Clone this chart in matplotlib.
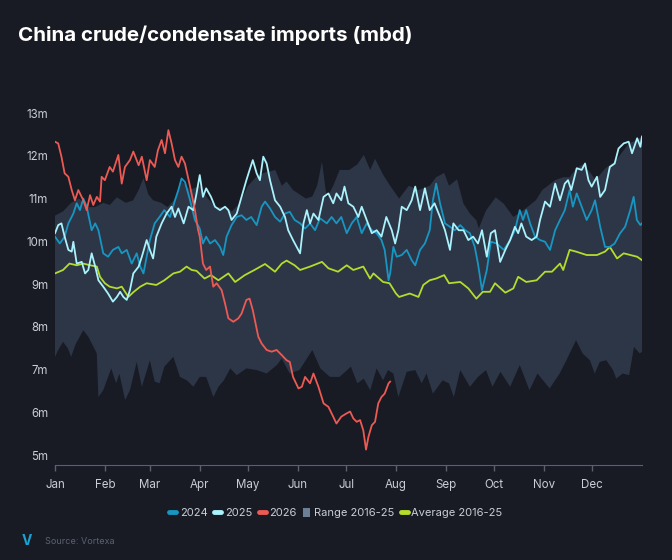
import numpy as np
import matplotlib
matplotlib.use("Agg")
import matplotlib.pyplot as plt
from matplotlib.lines import Line2D
from matplotlib.patches import Patch

plt.rcParams['font.family'] = ['Inter', 'DejaVu Sans']

title = "China crude/condensate imports (mbd)"
source = "Source: Vortexa"

month_labels = ["Jan", "Feb", "Mar", "Apr", "May", "Jun",
                "Jul", "Aug", "Sep", "Oct", "Nov", "Dec"]
month_starts = [0, 31, 59, 90, 120, 151, 181, 212, 243, 273, 304, 334]
y_ticks = [5, 6, 7, 8, 9, 10, 11, 12, 13]

# range 2016-25, upper edge (day of year, mbd)
range_hi_days = [0, 5, 10, 15, 20, 25, 30, 34, 38.5, 44, 48.6, 52, 55, 58, 61, 66, 70,
                 75, 79, 84, 90, 95, 100, 105, 110, 115, 120, 125, 130, 137, 141, 144,
                 148, 152, 156, 160, 163, 166, 169, 173, 177, 183, 188, 192, 196, 199,
                 204, 208, 214, 220, 226, 233, 237, 242, 245, 250, 254, 258, 262, 263.5,
                 268, 274, 279, 285, 291, 299, 303, 311, 316, 320, 324, 328, 333, 336,
                 342, 349, 353, 357, 361, 365]
range_hi = [10.6, 10.7, 10.9, 11.0, 10.8, 10.8, 10.9, 10.85, 11.03, 10.9, 10.96, 11.2,
            11.48, 11.1, 10.96, 10.9, 10.8, 11.0, 11.4, 11.2, 11.3, 11.0, 10.8, 10.8,
            10.7, 10.9, 11.3, 11.5, 11.6, 11.67, 11.3, 11.4, 11.2, 11.1, 11.0, 11.05,
            11.3, 11.86, 11.0, 11.3, 11.67, 11.67, 11.8, 12.02, 11.67, 11.93, 11.56,
            11.32, 11.0, 11.3, 11.2, 11.3, 11.5, 11.6, 11.3, 11.45, 10.88, 10.65, 10.49,
            10.3, 10.72, 11.03, 10.88, 10.57, 10.72, 10.96, 11.2, 11.43, 11.5, 11.5,
            11.7, 11.8, 11.6, 11.43, 11.7, 11.9, 12.1, 12.3, 12.35, 12.45]

# range 2016-25, lower edge
range_lo_days = [0, 2, 5, 8, 10, 13, 17.6, 20.7, 24, 26, 27, 30, 35, 38, 40, 43.6, 46.6,
                 50.8, 54, 59, 62, 65, 68, 73.6, 77.7, 82, 86, 90, 94, 98.5, 101.6, 105,
                 109, 113, 119, 125.4, 131.6, 138, 141, 146, 152, 160, 165, 171, 177, 184,
                 188, 192, 196, 200, 204, 207, 210.4, 213.5, 218.7, 224, 228, 231, 235,
                 241, 245, 248, 252, 258, 263, 268, 272, 277, 283, 289, 295, 300, 307.6,
                 313.8, 318, 324, 328, 332.6, 335.6, 338.7, 342.8, 347, 349, 353, 357,
                 360, 363.6, 365]
range_lo = [7.30, 7.46, 7.65, 7.50, 7.30, 7.61, 7.92, 7.77, 7.53, 7.38, 6.36, 6.52, 7.03,
            6.68, 6.91, 6.29, 6.52, 7.18, 6.60, 7.22, 6.72, 6.68, 7.07, 7.30, 6.83, 6.75,
            6.60, 6.83, 6.83, 6.36, 6.60, 6.75, 7.03, 6.87, 7.03, 6.99, 6.91, 7.11, 7.26,
            6.91, 6.99, 7.46, 7.03, 6.83, 6.83, 7.07, 6.68, 6.79, 6.52, 7.03, 6.75, 6.99,
            6.91, 6.36, 6.95, 6.99, 6.68, 6.91, 6.44, 6.75, 6.68, 6.36, 6.99, 6.60, 6.83,
            6.99, 6.60, 6.95, 6.60, 7.11, 6.52, 6.91, 6.56, 6.91, 7.22, 7.69, 7.38, 7.22,
            6.91, 7.18, 7.22, 6.99, 6.79, 6.91, 6.87, 7.53, 7.38, 7.42]

# average 2016-25
avg_days = [0, 5, 9, 13.5, 17.6, 22, 26, 28, 31, 34, 38.5, 41.5, 45.6, 49, 53, 57, 63, 68,
            73.6, 77.7, 81.8, 85, 88, 93, 97, 101.6, 107.8, 112, 118, 124, 130.6, 136.8,
            141, 144, 149, 152.4, 158.6, 166, 170, 176, 181.4, 185.5, 191.7, 195.9, 198,
            204, 208, 212, 214, 220.6, 226, 229, 233, 237, 242, 245, 252, 257, 262, 266,
            270.5, 273.6, 280, 285, 288, 293, 299.5, 304.7, 309, 314, 316, 320, 324, 330.6,
            337, 342, 345, 349.5, 353.6, 357.8, 362, 365]
avg = [9.25, 9.33, 9.48, 9.44, 9.48, 9.44, 9.41, 9.17, 9.02, 8.94, 8.90, 8.94, 8.70, 8.82,
       8.94, 9.02, 8.98, 9.09, 9.25, 9.29, 9.41, 9.33, 9.31, 9.13, 9.21, 9.09, 9.25, 9.05,
       9.21, 9.33, 9.47, 9.29, 9.48, 9.55, 9.44, 9.33, 9.41, 9.52, 9.37, 9.29, 9.44, 9.33,
       9.41, 9.13, 9.25, 9.05, 9.02, 8.78, 8.70, 8.78, 8.70, 8.98, 9.09, 9.13, 9.21, 9.02,
       9.05, 8.90, 8.66, 8.82, 8.82, 9.02, 8.80, 8.90, 9.17, 9.05, 9.09, 9.29, 9.29, 9.48,
       9.33, 9.80, 9.76, 9.68, 9.68, 9.76, 9.87, 9.60, 9.72, 9.68, 9.64, 9.56]

days_2024 = [0, 3, 6, 8.3, 11.4, 13.5, 15.5, 17.6, 19.7, 22.8, 25, 27, 30, 33, 36, 39.4,
             41.5, 44.6, 47.7, 50.8, 53, 55, 57, 59, 62, 65, 68, 71.5, 74.6, 76.7, 78.7,
             80.8, 84, 87, 90, 92, 94, 96.4, 99.5, 102.6, 104.6, 106.7, 109.8, 113, 116,
             119, 122, 125.4, 128.5, 130.6, 133.7, 136.8, 140, 143, 146, 149, 152.4, 155.5,
             158.6, 161.7, 164.8, 169, 172, 175, 178, 181.4, 184.5, 187.6, 190.7, 193.8,
             197, 200, 203, 205, 207.4, 208.4, 210.4, 212.5, 215.6, 218.7, 221.8, 224, 227,
             230, 233, 235, 237, 239.4, 242.5, 245.6, 248.7, 252, 255, 258, 261, 263, 265.5,
             268.5, 271, 274.7, 279, 283, 286, 289, 291, 293, 295.4, 298.5, 301.6, 304.7,
             307.8, 311, 314, 317, 320, 322, 324.4, 327.5, 330.6, 333.7, 335.8, 339, 342,
             345, 348, 351.4, 354.5, 357.7, 359.8, 361.8, 364, 365]
vals_2024 = [10.11, 9.95, 10.11, 10.42, 10.65, 10.89, 10.73, 11.00, 10.81, 10.26, 10.42,
             10.26, 9.72, 9.64, 9.80, 9.87, 9.72, 9.80, 9.48, 9.72, 9.41, 9.25, 9.64, 10.03,
             10.42, 10.57, 10.73, 10.57, 10.96, 11.20, 11.47, 11.39, 10.96, 10.50, 10.30,
             9.95, 10.11, 9.95, 10.03, 9.87, 9.68, 10.11, 10.38, 10.57, 10.61, 10.50, 10.57,
             10.38, 10.81, 10.93, 10.77, 10.57, 10.46, 10.65, 10.69, 10.50, 10.42, 10.30,
             10.42, 10.26, 10.54, 10.42, 10.57, 10.42, 10.57, 10.19, 10.42, 10.57, 10.19,
             10.42, 10.26, 10.19, 10.03, 9.80, 9.09, 9.25, 9.87, 9.64, 9.68, 9.80, 9.56, 9.44,
             9.80, 9.95, 10.26, 10.96, 11.35, 10.89, 10.42, 10.34, 10.26, 10.38, 10.26, 10.19,
             9.87, 9.48, 8.86, 9.33, 9.99, 9.95, 9.80, 10.03, 10.26, 10.73, 10.50, 10.73,
             10.42, 10.11, 10.03, 9.99, 9.80, 10.26, 10.50, 10.73, 11.20, 10.81, 11.12, 10.81,
             10.50, 10.73, 10.96, 10.34, 9.87, 9.87, 9.95, 10.19, 10.34, 10.73, 11.04, 10.50,
             10.38, 10.42]

days_2025 = [0, 2, 4, 6, 8.3, 10.4, 11.4, 13.5, 16.6, 18.7, 20.7, 22.8, 25, 27, 30, 33, 36,
             38.5, 40.5, 42.5, 44.6, 46.6, 48.7, 52, 54, 57, 59, 61, 63, 66.3, 69.4, 72.5,
             74.6, 76.7, 80, 83, 86, 88, 90, 92, 94, 97, 99.5, 102.6, 105.7, 107.8, 109.8,
             113, 116, 119, 121, 123, 125.4, 127.4, 129.5, 131.6, 133.7, 136.8, 140, 143,
             145, 148, 150.3, 152.4, 154.5, 156.6, 158.6, 160.7, 163.8, 167, 170, 173, 175,
             178, 180, 182.4, 185.5, 188.6, 190.7, 193.8, 197, 200, 203, 206, 209.4, 211.5,
             213.5, 215.6, 218.7, 221.8, 224, 227, 230, 233, 236, 239.4, 242.5, 245.6, 247.7,
             251, 254, 257, 260, 263, 265.5, 268.5, 271, 273.6, 276.8, 280, 283, 286, 288,
             290, 293, 296.4, 299.5, 301.6, 304.7, 307.8, 311, 314, 317, 319, 321, 324.4,
             327.5, 329.6, 331.7, 333.7, 337, 339, 342, 345, 348, 350.4, 353.6, 356.7, 358.8,
             362, 364, 365]
vals_2025 = [10.19, 10.38, 10.42, 10.11, 9.80, 9.76, 9.99, 9.48, 9.52, 9.25, 9.33, 9.72,
             9.41, 9.09, 8.94, 8.78, 8.59, 8.70, 8.82, 8.70, 8.63, 8.86, 9.25, 9.41, 9.64,
             10.03, 9.80, 9.60, 10.11, 10.42, 10.65, 10.81, 10.57, 10.77, 10.42, 10.81, 10.73,
             11.12, 11.55, 11.04, 11.24, 11.04, 10.81, 10.73, 10.81, 10.73, 10.50, 10.65,
             11.04, 11.43, 11.67, 11.90, 11.59, 11.43, 11.98, 11.82, 11.43, 10.96, 10.81,
             10.57, 10.26, 10.03, 9.87, 9.72, 10.42, 10.73, 10.42, 10.65, 10.50, 11.04, 11.12,
             10.89, 11.12, 10.96, 11.28, 10.89, 10.81, 10.57, 10.81, 10.50, 10.19, 10.26,
             10.11, 10.57, 10.26, 9.95, 10.26, 10.81, 10.73, 10.96, 11.28, 10.73, 11.24, 10.73,
             10.89, 10.57, 10.26, 9.80, 10.42, 10.26, 10.26, 10.03, 10.11, 9.95, 10.26, 9.64,
             10.19, 10.26, 9.52, 9.80, 10.03, 10.34, 10.19, 10.42, 10.11, 10.03, 10.11, 10.50,
             10.93, 10.81, 11.35, 10.96, 11.35, 11.43, 11.20, 11.71, 11.67, 11.82, 11.43,
             11.28, 11.51, 11.04, 11.20, 11.74, 11.82, 12.17, 12.29, 12.33, 12.06, 12.41,
             12.21, 12.45]

days_2026 = [0, 2, 4, 6, 8.3, 10.4, 12.4, 14.5, 17.6, 19.7, 21.8, 23.8, 26, 28, 29, 31, 34,
             36, 39.4, 41.5, 43.5, 46.6, 48.7, 52, 54, 57, 59, 62, 64, 66.3, 68.4, 70.5, 72.5,
             74.6, 76.7, 78.7, 80.8, 84, 87, 89, 90, 92, 94, 96.4, 98.4, 100.5, 103.6, 105.7,
             107.8, 110.9, 114, 116, 119, 121, 123, 126.4, 128.5, 131.6, 134.7, 137.8, 141,
             144, 146, 148, 151.4, 153.5, 155.5, 158.6, 160.7, 163.8, 167, 170, 173, 175, 178,
             181, 183.5, 185.5, 187.6, 189.7, 191.7, 193.4, 194.9, 197, 199, 201, 203, 205,
             207.4, 208.4]
vals_2026 = [12.33, 12.29, 11.98, 11.59, 11.51, 11.20, 10.96, 11.20, 10.96, 10.73, 11.08,
             10.85, 11.04, 10.93, 11.51, 11.43, 11.74, 11.63, 12.02, 11.35, 11.74, 11.90,
             12.10, 11.78, 11.98, 11.43, 11.90, 11.74, 12.13, 12.37, 12.06, 12.60, 12.29,
             11.90, 11.74, 11.98, 11.82, 11.28, 10.73, 10.26, 10.11, 9.48, 9.33, 9.41, 8.94,
             9.02, 8.86, 8.55, 8.20, 8.12, 8.20, 8.31, 8.63, 8.66, 8.39, 7.77, 7.61, 7.46,
             7.42, 7.46, 7.34, 7.22, 7.18, 6.83, 6.56, 6.60, 6.83, 6.68, 6.91, 6.60, 6.21,
             6.13, 5.90, 5.74, 5.90, 5.97, 6.02, 5.86, 5.78, 5.82, 5.58, 5.13, 5.43, 5.70,
             5.78, 6.21, 6.36, 6.44, 6.68, 6.72]

bg = "#181b24"
range_color = "#2d3647"
c2024 = "#1796c2"
c2025 = "#aaf2fc"
c2026 = "#ec5a54"
cavg = "#b3dc2c"
text_color = "#c9cdd6"

fig = plt.figure(figsize=(6.72, 5.6), dpi=100, facecolor=bg)
ax = fig.add_axes([55 / 672, 95 / 560, 587 / 672, 360.5 / 560])
ax.set_facecolor(bg)

poly_x = np.r_[range_hi_days, range_lo_days[::-1]]
poly_y = np.r_[range_hi, range_lo[::-1]]
ax.fill(poly_x, poly_y, color=range_color, lw=0, zorder=1)

ax.plot(avg_days, avg, color=cavg, lw=1.3, zorder=2)
ax.plot(days_2024, vals_2024, color=c2024, lw=1.3, zorder=3)
ax.plot(days_2025, vals_2025, color=c2025, lw=1.3, zorder=4)
ax.plot(days_2026, vals_2026, color=c2026, lw=1.3, zorder=5)

ax.set_xlim(0, 365)
ax.set_ylim(4.77, 13.2)
ax.set_xticks(month_starts)
ax.set_xticklabels(month_labels)
ax.set_yticks(y_ticks)
ax.set_yticklabels([f"{v}m" for v in y_ticks])
for side in ["top", "right", "left"]:
    ax.spines[side].set_visible(False)
ax.spines["bottom"].set_color("#5a606e")
ax.tick_params(axis="x", colors="#5a606e", length=4, width=1, labelcolor=text_color,
               labelsize=8.3, pad=6)
ax.tick_params(axis="y", length=0, labelcolor=text_color, labelsize=8.3, pad=5)

fig.text(18 / 672, 1 - 35 / 560, title, color="white", fontsize=14.8, fontweight="bold",
         va="center", ha="left")

handles = [
    Line2D([], [], color=c2024, lw=3.5, solid_capstyle="round"),
    Line2D([], [], color=c2025, lw=3.5, solid_capstyle="round"),
    Line2D([], [], color=c2026, lw=3.5, solid_capstyle="round"),
    Patch(facecolor="#6b7f95", edgecolor="none"),
    Line2D([], [], color=cavg, lw=3.5, solid_capstyle="round"),
]
labels = ["2024", "2025", "2026", "Range 2016-25", "Average 2016-25"]
leg = fig.legend(handles, labels, loc="center", bbox_to_anchor=(0.5, 1 - 513 / 560),
                 ncol=5, frameon=False, fontsize=8, labelcolor=text_color,
                 handlelength=0.6, handleheight=0.9, handletextpad=0.35, columnspacing=0.6)

fig.text(22 / 672, 1 - 541 / 560, "V", color="#1aa3d4", fontsize=10, fontweight="bold",
         va="center", ha="left")
fig.text(45 / 672, 1 - 541 / 560, source, color="#5b6170", fontsize=6.5,
         va="center", ha="left")

fig.savefig("out.png", dpi=100, facecolor=bg)
